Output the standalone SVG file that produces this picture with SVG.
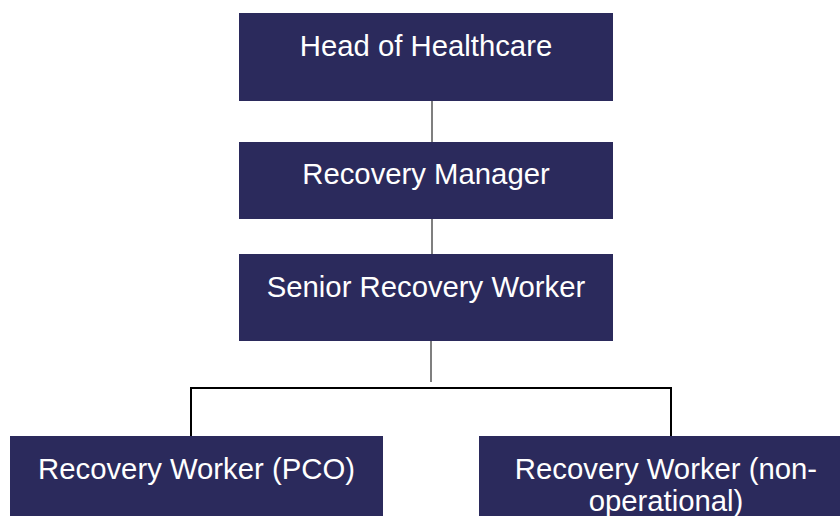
<svg xmlns="http://www.w3.org/2000/svg" width="840" height="516" viewBox="0 0 840 516">
<style>
.box{fill:#2b2a5c}
.t{font-family:"Liberation Sans",Arial,sans-serif;font-size:29.3px;fill:#ffffff;text-anchor:middle}
.g{stroke:#7f7f7f;stroke-width:2;fill:none}
.k{stroke:#000000;stroke-width:2;fill:none}
</style>
<rect width="840" height="516" fill="#ffffff"/>
<g id="connectors">
<line class="g" x1="432" y1="101" x2="432" y2="142"/>
<line class="g" x1="432" y1="219" x2="432" y2="262"/>
<line class="g" x1="431" y1="341" x2="431" y2="382"/>
<polyline class="k" points="191,436 191,388 671,388 671,436"/>
</g>
<g id="head">
<rect class="box" x="239" y="13" width="374" height="88"/>
<text class="t" x="426" y="56">Head of Healthcare</text>
</g>
<g id="manager">
<rect class="box" x="239" y="142" width="374" height="77"/>
<text class="t" x="426" y="184">Recovery Manager</text>
</g>
<g id="senior">
<rect class="box" x="239" y="254" width="374" height="87"/>
<text class="t" x="426" y="297">Senior Recovery Worker</text>
</g>
<g id="pco">
<rect class="box" x="10" y="436" width="373" height="90"/>
<text class="t" x="196.5" y="479">Recovery Worker (PCO)</text>
</g>
<g id="nonop">
<rect class="box" x="479" y="436" width="374" height="90"/>
<text class="t" x="666" y="479">Recovery Worker (non-</text>
<text class="t" x="666" y="511">operational)</text>
</g>
</svg>
